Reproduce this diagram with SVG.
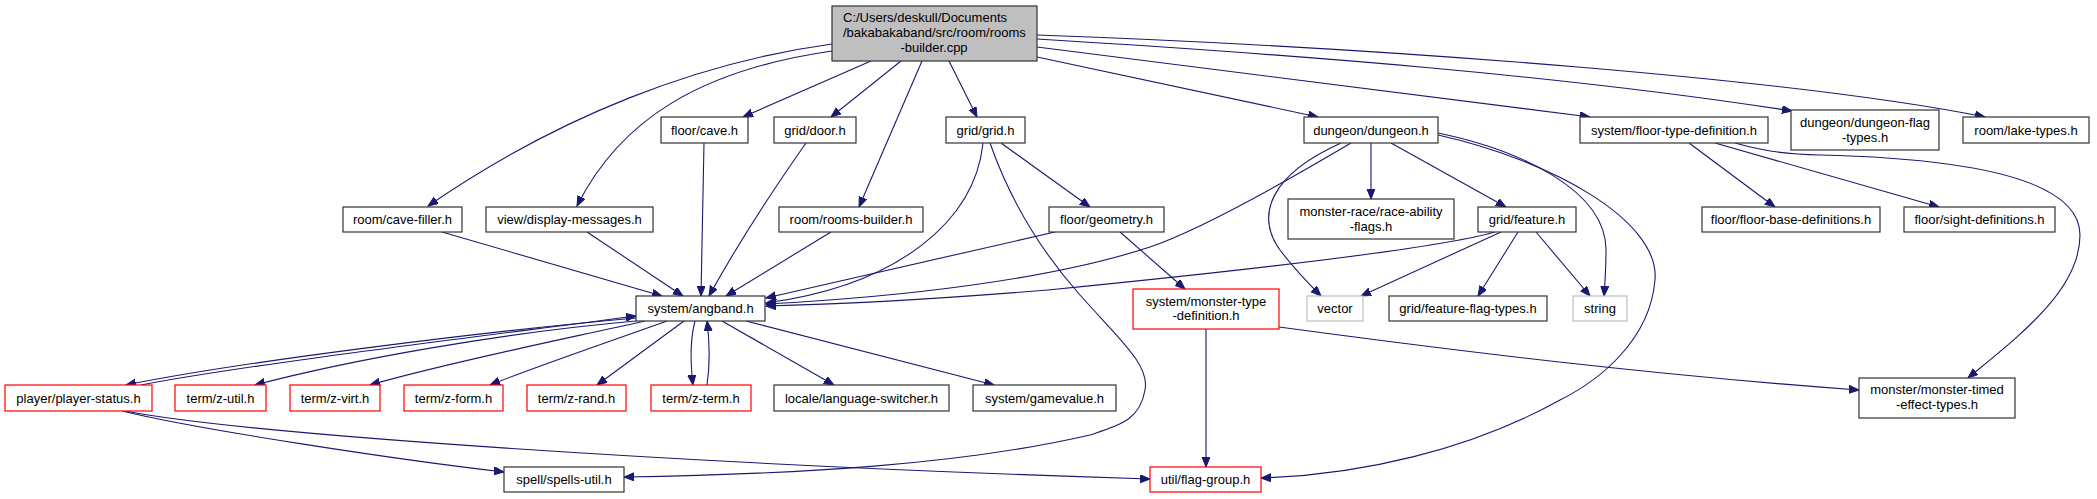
<svg xmlns="http://www.w3.org/2000/svg" width="2097" height="499" viewBox="0 0 2097 499">
<style>
.n rect{fill:#fff;stroke:#333;stroke-width:1.2}
.n.r rect{stroke:#f00}
.n.g rect{stroke:#bfbfbf}
.n.m rect{fill:#bfbfbf}
text{font-family:"Liberation Sans",Arial,sans-serif;font-size:13px;fill:#000;text-anchor:middle}
.e path{fill:none;stroke:#191970;stroke-width:1.1;marker-end:url(#a)}
</style>
<defs>
<marker id="a" markerWidth="11" markerHeight="9" refX="10" refY="4" orient="auto" markerUnits="userSpaceOnUse"><path d="M0,0 L10,4 L0,8 z" fill="#191970" stroke="#191970" stroke-width="1"/></marker>
</defs>
<rect width="2097" height="499" fill="#fff"/>
<g class="e" id="edges">
<path d="M832,44 C700,62 560,115 428,206"/>
<path d="M832,51 C700,70 620,120 577,206"/>
<path d="M871,61 L743,117"/>
<path d="M901,61 L831,117"/>
<path d="M922,61 L859,207"/>
<path d="M949,61 L977,117"/>
<path d="M1037,57 L1318,117"/>
<path d="M1037,47 L1590,117"/>
<path d="M1037,39 C1300,55 1560,75 1792,111"/>
<path d="M1037,35 C1400,48 1800,80 1985,117"/>
<path d="M704,143 L701,296"/>
<path d="M806,143 C780,180 740,240 709,296"/>
<path d="M831,232 L726,296"/>
<path d="M442,232 L662,296"/>
<path d="M587,232 L683,296"/>
<path d="M983,143 C975,220 900,285 766,303"/>
<path d="M990,143 C1010,200 1040,250 1080,295 C1120,340 1150,365 1145,390 C1140,420 1120,425 1090,435 C960,465 800,474 624,477"/>
<path d="M1001,143 L1090,207"/>
<path d="M1055,232 L766,298"/>
<path d="M1120,232 L1185,289"/>
<path d="M1351,143 C1280,185 1200,230 1150,247 C1050,280 900,297 766,304"/>
<path d="M1341,143 C1270,175 1255,215 1280,250 C1295,270 1310,285 1321,296"/>
<path d="M1371,143 L1371,199"/>
<path d="M1391,143 L1506,207"/>
<path d="M1438,133 C1520,150 1606,190 1606,250 C1606,270 1605,283 1604,296"/>
<path d="M1438,135 C1550,160 1660,220 1655,280 C1650,340 1600,380 1560,400 C1470,450 1360,475 1261,478"/>
<path d="M1495,232 C1450,245 1300,265 1048,290 C950,298 850,304 766,306"/>
<path d="M1501,232 L1361,296"/>
<path d="M1518,232 L1478,296"/>
<path d="M1536,232 L1590,296"/>
<path d="M1206,329 L1206,467"/>
<path d="M1279,327 C1450,350 1650,375 1859,390"/>
<path d="M1689,143 L1775,207"/>
<path d="M1715,143 L1939,207"/>
<path d="M1735,143 C1760,150 1780,154 1820,155 C1950,158 2080,175 2080,235 C2080,290 2020,335 1968,378"/>
<path d="M636,318 C500,330 250,360 126,385"/>
<path d="M141,385 C250,364 500,334 636,316"/>
<path d="M636,321 C500,333 350,360 255,385"/>
<path d="M645,321 C560,340 450,362 370,385"/>
<path d="M667,321 C600,345 540,365 490,385"/>
<path d="M684,321 L597,385"/>
<path d="M695,321 C690,340 690,360 693,385"/>
<path d="M707,385 C710,365 710,345 707,321"/>
<path d="M722,321 L834,385"/>
<path d="M746,321 L994,385"/>
<path d="M122,411 C200,430 400,460 504,472"/>
<path d="M125,411 C250,435 700,465 1150,479"/>
</g>
<g class="n m" id="main"><rect x="832" y="6" width="205" height="55"/><text x="843" y="21.5" style="text-anchor:start">C:/Users/deskull/Documents</text><text x="843" y="36.5" style="text-anchor:start">/bakabakaband/src/room/rooms</text><text x="934" y="51.5">-builder.cpp</text></g>
<g class="n" id="floor-cave"><rect x="661" y="117" width="87" height="26"/><text x="704.5" y="134.5">floor/cave.h</text></g>
<g class="n" id="grid-door"><rect x="774" y="117" width="82" height="26"/><text x="815" y="134.5">grid/door.h</text></g>
<g class="n" id="grid-grid"><rect x="946" y="117" width="79" height="26"/><text x="985.5" y="134.5">grid/grid.h</text></g>
<g class="n" id="dungeon"><rect x="1304" y="117" width="134" height="26"/><text x="1371" y="134.5">dungeon/dungeon.h</text></g>
<g class="n" id="floor-type-def"><rect x="1580" y="117" width="188" height="26"/><text x="1674" y="134.5">system/floor-type-definition.h</text></g>
<g class="n" id="dungeon-flag-types"><rect x="1791" y="110" width="148" height="40"/><text x="1865" y="126.5">dungeon/dungeon-flag</text><text x="1865" y="141.5">-types.h</text></g>
<g class="n" id="lake-types"><rect x="1963" y="117" width="126" height="26"/><text x="2026" y="134.5">room/lake-types.h</text></g>
<g class="n" id="cave-filler"><rect x="343" y="207" width="119" height="25"/><text x="402.5" y="224">room/cave-filler.h</text></g>
<g class="n" id="display-messages"><rect x="486" y="207" width="167" height="25"/><text x="569.5" y="224">view/display-messages.h</text></g>
<g class="n" id="rooms-builder-h"><rect x="779" y="207" width="144" height="25"/><text x="851" y="224">room/rooms-builder.h</text></g>
<g class="n" id="geometry"><rect x="1049" y="207" width="115" height="25"/><text x="1106.5" y="224">floor/geometry.h</text></g>
<g class="n" id="race-ability-flags"><rect x="1288" y="199" width="166" height="40"/><text x="1371" y="215.5">monster-race/race-ability</text><text x="1371" y="230.5">-flags.h</text></g>
<g class="n" id="feature"><rect x="1478" y="207" width="98" height="25"/><text x="1527" y="224">grid/feature.h</text></g>
<g class="n" id="floor-base-def"><rect x="1702" y="207" width="178" height="25"/><text x="1791" y="224">floor/floor-base-definitions.h</text></g>
<g class="n" id="sight-def"><rect x="1904" y="207" width="151" height="25"/><text x="1979.5" y="224">floor/sight-definitions.h</text></g>
<g class="n" id="angband"><rect x="636" y="296" width="129" height="25"/><text x="700.5" y="313">system/angband.h</text></g>
<g class="n r" id="monster-type-def"><rect x="1133" y="289" width="146" height="40"/><text x="1206" y="305.5">system/monster-type</text><text x="1206" y="320">-definition.h</text></g>
<g class="n g" id="vector"><rect x="1307" y="296" width="56" height="25"/><text x="1335" y="313">vector</text></g>
<g class="n" id="feature-flag-types"><rect x="1389" y="296" width="158" height="25"/><text x="1468" y="313">grid/feature-flag-types.h</text></g>
<g class="n g" id="string"><rect x="1573" y="296" width="54" height="25"/><text x="1600" y="313">string</text></g>
<g class="n r" id="player-status"><rect x="5" y="385" width="147" height="26"/><text x="78.5" y="402.5">player/player-status.h</text></g>
<g class="n r" id="z-util"><rect x="175" y="385" width="91" height="26"/><text x="220.5" y="402.5">term/z-util.h</text></g>
<g class="n r" id="z-virt"><rect x="290" y="385" width="90" height="26"/><text x="335" y="402.5">term/z-virt.h</text></g>
<g class="n r" id="z-form"><rect x="404" y="385" width="99" height="26"/><text x="453.5" y="402.5">term/z-form.h</text></g>
<g class="n r" id="z-rand"><rect x="527" y="385" width="99" height="26"/><text x="576.5" y="402.5">term/z-rand.h</text></g>
<g class="n r" id="z-term"><rect x="651" y="385" width="100" height="26"/><text x="701" y="402.5">term/z-term.h</text></g>
<g class="n" id="language-switcher"><rect x="774" y="385" width="175" height="26"/><text x="861.5" y="402.5">locale/language-switcher.h</text></g>
<g class="n" id="gamevalue"><rect x="973" y="385" width="143" height="26"/><text x="1044.5" y="402.5">system/gamevalue.h</text></g>
<g class="n" id="monster-timed"><rect x="1859" y="378" width="156" height="40"/><text x="1937" y="393.5">monster/monster-timed</text><text x="1937" y="408.5">-effect-types.h</text></g>
<g class="n" id="spells-util"><rect x="504" y="467" width="120" height="25"/><text x="564" y="484">spell/spells-util.h</text></g>
<g class="n r" id="flag-group"><rect x="1150" y="467" width="111" height="25"/><text x="1205.5" y="484">util/flag-group.h</text></g>
</svg>
